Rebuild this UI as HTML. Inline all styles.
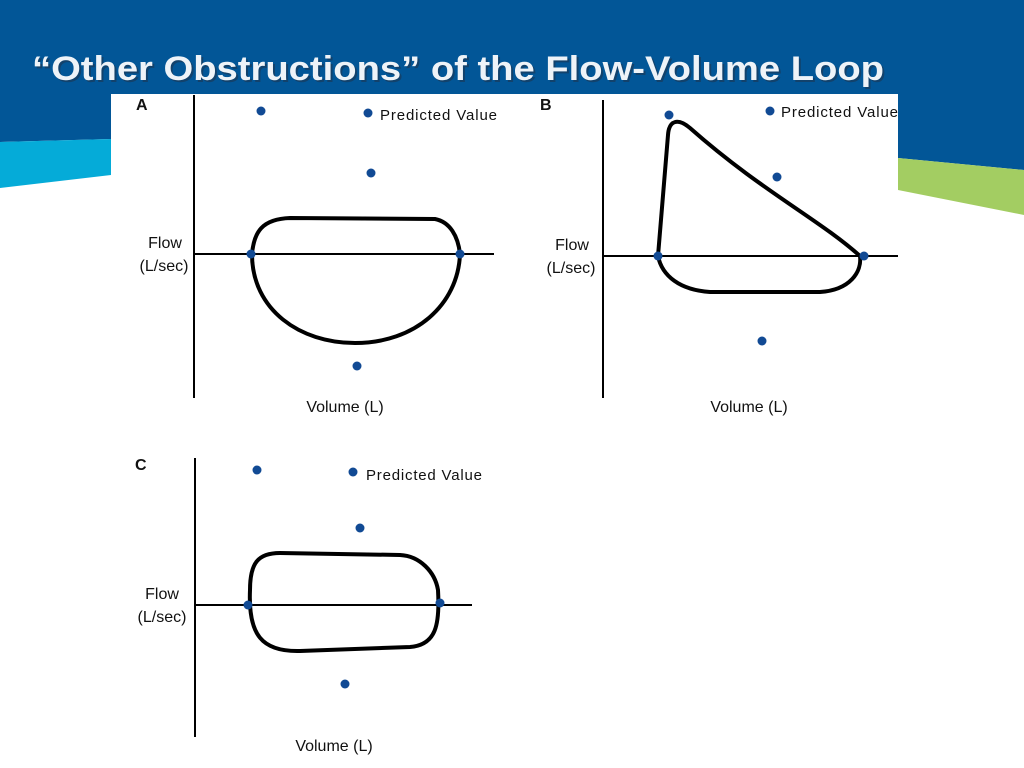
<!DOCTYPE html>
<html><head><style>
html,body{margin:0;padding:0;width:1024px;height:768px;overflow:hidden;background:#fff}
svg{display:block}
</style></head><body>
<svg width="1024" height="768" viewBox="0 0 1024 768" xmlns="http://www.w3.org/2000/svg" font-family="Liberation Sans, sans-serif">
<rect width="1024" height="768" fill="#fff"/>
<path d="M0,0H1024V170L898,158L111,139L0,142Z" fill="#025697"/>
<path d="M0,142L111,139V175L0,188Z" fill="#05abd8"/>
<path d="M898,158L1024,170V215L898,190Z" fill="#a3cd62"/>
<rect x="111" y="94" width="787" height="674" fill="#fff"/>
<text x="34" y="82" font-size="34" font-weight="bold" fill="#1d3550" opacity="0.6" textLength="852" lengthAdjust="spacingAndGlyphs">“Other Obstructions” of the Flow-Volume Loop</text>
<text x="32" y="80" font-size="34" font-weight="bold" fill="#eef3f8" textLength="852" lengthAdjust="spacingAndGlyphs">“Other Obstructions” of the Flow-Volume Loop</text>
<g stroke="#000" stroke-width="2" fill="none">
<line x1="194" y1="95" x2="194" y2="398"/><line x1="194" y1="254" x2="494" y2="254"/>
<line x1="603" y1="100" x2="603" y2="398"/><line x1="603" y1="256" x2="898" y2="256"/>
<line x1="195" y1="458" x2="195" y2="737"/><line x1="195" y1="605" x2="472" y2="605"/>
</g>
<g stroke="#000" stroke-width="4" fill="none" stroke-linejoin="round">
<path d="M460,254 C458,236 450,222 435,219 L290,218 C262,219 254,232 252,254 C252,310 300,343 355,343 C415,343 458,305 460,254 Z"/>
<path d="M658,256 L668,135 C669,120 678,118 690,128 C760,190 820,220 860,256 C862,272 850,290 820,292 L710,292 C680,290 662,276 658,256 Z"/>
<path d="M250,590 C250,563 258,553 280,553 L400,555 C420,556 435,572 438,590 C440,625 436,645 410,647 L300,651 C262,652 248,635 250,590 Z"/>
</g>
<g fill="#114a94">
<circle cx="261" cy="111" r="4.5"/><circle cx="368" cy="113" r="4.5"/><circle cx="371" cy="173" r="4.5"/><circle cx="251" cy="254" r="4.5"/><circle cx="460" cy="254" r="4.5"/><circle cx="357" cy="366" r="4.5"/>
<circle cx="669" cy="115" r="4.5"/><circle cx="770" cy="111" r="4.5"/><circle cx="777" cy="177" r="4.5"/><circle cx="658" cy="256" r="4.5"/><circle cx="864" cy="256" r="4.5"/><circle cx="762" cy="341" r="4.5"/>
<circle cx="257" cy="470" r="4.5"/><circle cx="353" cy="472" r="4.5"/><circle cx="360" cy="528" r="4.5"/><circle cx="248" cy="605" r="4.5"/><circle cx="440" cy="603" r="4.5"/><circle cx="345" cy="684" r="4.5"/>
</g>
<g font-size="15" fill="#111">
<text x="136" y="110" font-weight="bold" font-size="16">A</text>
<text x="540" y="110" font-weight="bold" font-size="16">B</text>
<text x="135" y="470" font-weight="bold" font-size="16">C</text>
<text x="380" y="120" textLength="117">Predicted Value</text>
<text x="781" y="117" textLength="117">Predicted Value</text>
<text x="366" y="480" textLength="116">Predicted Value</text>
<g font-size="16" text-anchor="middle">
<text x="165" y="248">Flow</text><text x="164" y="271">(L/sec)</text>
<text x="572" y="250">Flow</text><text x="571" y="273">(L/sec)</text>
<text x="162" y="599">Flow</text><text x="162" y="622">(L/sec)</text>
<text x="345" y="412">Volume (L)</text>
<text x="749" y="412">Volume (L)</text>
<text x="334" y="751">Volume (L)</text>
</g>
</g>
</svg>
</body></html>
